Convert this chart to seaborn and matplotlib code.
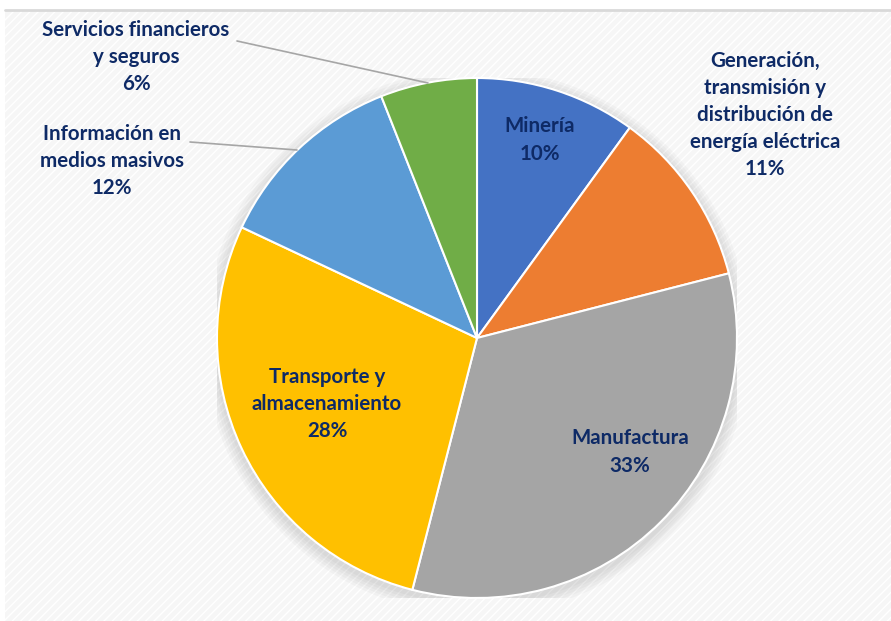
import matplotlib
matplotlib.use("Agg")
import matplotlib.pyplot as plt
import matplotlib.patches as mpatches
import seaborn as sns

categories = ["Minería", "Generación,\ntransmisión y\ndistribución de\nenergía eléctrica",
              "Manufactura", "Transporte y\nalmacenamiento", "Información en\nmedios masivos",
              "Servicios financieros\ny seguros"]
values = [10, 11, 33, 28, 12, 6]
colors = ["#4472C4", "#ED7D31", "#A5A5A5", "#FFC000", "#5B9BD5", "#70AD47"]

sns.set_theme(style="white")
plt.rcParams['font.family'] = ['Lato', 'DejaVu Sans']

W, H = 891, 621
fig = plt.figure(figsize=(W / 100, H / 100), dpi=100)
fig.patch.set_facecolor("white")

# background panel
bgax = fig.add_axes([0, 0, 1, 1], zorder=-5)
bgax.set_xlim(0, W)
bgax.set_ylim(H, 0)
bgax.axis("off")
bgax.add_patch(mpatches.Rectangle((5, 10), W - 5, H - 10, facecolor="#f6f6f6",
                                  edgecolor="none"))
bgax.add_patch(mpatches.Rectangle((5, 10), W - 5, H - 10, facecolor="none",
                                  edgecolor="#ffffff", hatch="////", lw=0))
bgax.plot([5, W], [10, 10], color="#d9d9d9", lw=2)

cx, cy, R = 477, 338, 260
ax = fig.add_axes([(cx - R) / W, (H - cy - R) / H, 2 * R / W, 2 * R / H], zorder=1)
ax.set_facecolor("none")

# soft shadow
for r in [1.05, 1.04, 1.03, 1.02, 1.01]:
    ax.add_patch(mpatches.Circle((0, -0.015), r, facecolor="#000000", alpha=0.025,
                                 edgecolor="none", zorder=0))

ax.pie(values, colors=colors, startangle=90, counterclock=False, radius=1,
       wedgeprops=dict(edgecolor="white", linewidth=1.5))
ax.set_xlim(-1, 1)
ax.set_ylim(-1, 1)
ax.set_aspect("equal")
ax.axis("off")

def px(x, y):
    return ((x - cx) / R, (cy - y) / R)

label_pos = [(540, 140), (765, 115), (630, 452), (327, 404), (112, 161), (136, 57)]
txt_color = "#0E2A66"
for cat, v, (x, y) in zip(categories, values, label_pos):
    ax.text(*px(x, y), f"{cat}\n{v}%", ha="center", va="center", color=txt_color,
            fontsize=14.8, fontweight="bold", linespacing=1.45, clip_on=False)

for (x0, y0), (x1, y1) in [((237, 41), (428, 83)), ((190, 142), (297, 150))]:
    a, b = px(x0, y0), px(x1, y1)
    ax.plot([a[0], b[0]], [a[1], b[1]], color="#a6a6a6", lw=1.2, clip_on=False)

fig.savefig("out.png", dpi=100)
